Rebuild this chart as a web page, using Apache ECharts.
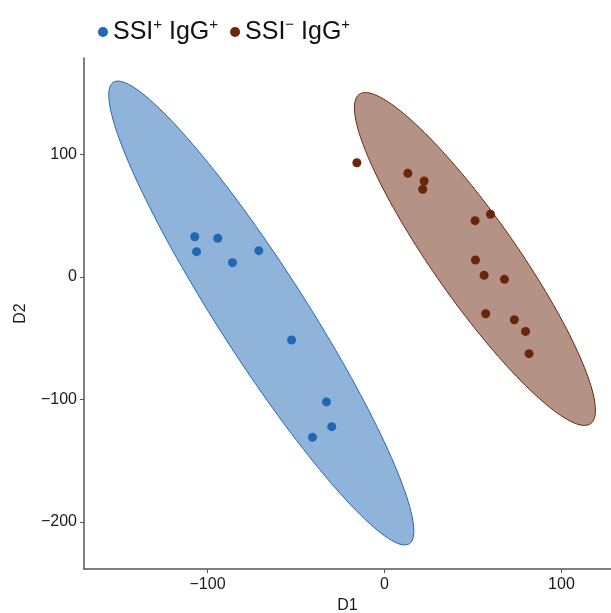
<!DOCTYPE html>
<html>
<head>
<meta charset="utf-8">
<script src="https://cdn.jsdelivr.net/npm/echarts@6/dist/echarts.min.js"></script>
<style>
  html, body { margin: 0; padding: 0; background: #fff; }
  #chart { width: 611px; height: 613px; }
</style>
</head>
<body>
<div id="chart"></div>
<script>
// groups
const groupNames = ["SSI+ IgG+", "SSI- IgG+"]

// SSI+ IgG+ points (D1, D2)
const posD1 = [-107.2, -94.2, -106.2, -71.0, -85.9, -52.5, -32.8, -29.8, -40.7]
const posD2 = [32.9, 31.6, 20.7, 21.5, 11.7, -51.4, -102.0, -122.2, -130.9]

// SSI- IgG+ points (D1, D2)
const negD1 = [-15.6, 13.2, 22.4, 21.6, 51.2, 59.9, 51.4, 56.3, 67.8, 57.2, 73.4, 79.7, 81.7]
const negD2 = [93.3, 84.7, 78.4, 71.6, 46.0, 51.2, 13.9, 1.4, -1.9, -30.0, -34.9, -44.4, -62.6]

// confidence ellipses: centre and two conjugate half-axes, data units
const posEllipseCenter = [-69.6, -29.4]
const posEllipseU = [86.2, -178.0]
const posEllipseV = [0, -64.6]
const negEllipseCenter = [51.1, 14.7]
const negEllipseU = [68.1, -123.5]
const negEllipseV = [0, -56.7]

// tick labels
const xTicks = [-100, 0, 100]
const yTicks = [-200, -100, 0, 100]

const colors = ["#1f68b3", "#6a260b"]

const chart = echarts.init(document.getElementById("chart"))

function zip(a, b) {
  return a.map((v, i) => [v, b[i]])
}

// polygon traced through the axes, so the ellipse follows the scales
function ellipseSeries(name, center, u, v, color) {
  return {
    name: name,
    type: "custom",
    z: 1,
    silent: true,
    data: [[center[0], center[1]]],
    itemStyle: { color: color },
    renderItem(params, api) {
      const pts = []
      for (let i = 0; i < 160; i++) {
        const t = (i / 160) * Math.PI * 2
        pts.push(api.coord([
          center[0] + u[0] * Math.cos(t) + v[0] * Math.sin(t),
          center[1] + u[1] * Math.cos(t) + v[1] * Math.sin(t),
        ]))
      }
      return {
        type: "polygon",
        shape: { points: pts },
        style: { fill: echarts.color.modifyAlpha(color, 0.5), stroke: color, lineWidth: 1 },
      }
    },
  }
}

const fmtMinus = (v) => String(v).replace("-", "\u2212")
const axisFont = { fontSize: 16, fontFamily: "Liberation Sans", color: "#1a1a1a" }

chart.setOption({
  animation: false,
  color: colors,
  legend: {
    top: 12,
    left: 93,
    itemWidth: 10,
    itemHeight: 10,
    itemGap: 12,
    data: groupNames.map((n) => ({ name: n, icon: "circle" })),
    formatter(name) {
      return name === groupNames[0]
        ? "{t|SSI}{s|+}{t| IgG}{s|+}"
        : "{t|SSI}{s|\u2212}{t| IgG}{s|+}"
    },
    textStyle: {
      rich: {
        t: { fontSize: 25, fontFamily: "Liberation Sans", color: "#111", lineHeight: 30 },
        s: { fontSize: 15, fontFamily: "Liberation Sans", color: "#111", verticalAlign: "top", lineHeight: 30, padding: [0, 0, 15, 0] },
      },
    },
  },
  grid: { left: 84, right: 0, top: 58, bottom: 44, containLabel: false, outerBoundsMode: "none" },
  xAxis: {
    type: "value",
    min: -169.8,
    max: 128,
    name: "D1",
    nameLocation: "middle",
    nameGap: 25,
    nameTextStyle: axisFont,
    splitLine: { show: false },
    axisLine: { show: true, onZero: false, lineStyle: { color: "#555", width: 1.5 } },
    axisTick: { show: true, length: 4, lineStyle: { color: "#555" }, customValues: xTicks },
    axisLabel: Object.assign({ margin: 8, customValues: xTicks, formatter: fmtMinus }, axisFont),
  },
  yAxis: {
    type: "value",
    min: -238.4,
    max: 178.8,
    name: "D2",
    nameLocation: "middle",
    nameGap: 55,
    nameTextStyle: axisFont,
    splitLine: { show: false },
    axisLine: { show: true, onZero: false, lineStyle: { color: "#555", width: 1.5 } },
    axisTick: { show: true, length: 4, lineStyle: { color: "#555" }, customValues: yTicks },
    axisLabel: Object.assign({ margin: 7, customValues: yTicks, formatter: fmtMinus }, axisFont),
  },
  series: [
    ellipseSeries(groupNames[0], posEllipseCenter, posEllipseU, posEllipseV, colors[0]),
    ellipseSeries(groupNames[1], negEllipseCenter, negEllipseU, negEllipseV, colors[1]),
    {
      name: groupNames[0],
      type: "scatter",
      z: 3,
      symbolSize: 9,
      itemStyle: { color: colors[0], opacity: 1 },
      data: zip(posD1, posD2),
    },
    {
      name: groupNames[1],
      type: "scatter",
      z: 3,
      symbolSize: 9,
      itemStyle: { color: colors[1], opacity: 1 },
      data: zip(negD1, negD2),
    },
  ],
})
</script>
</body>
</html>
